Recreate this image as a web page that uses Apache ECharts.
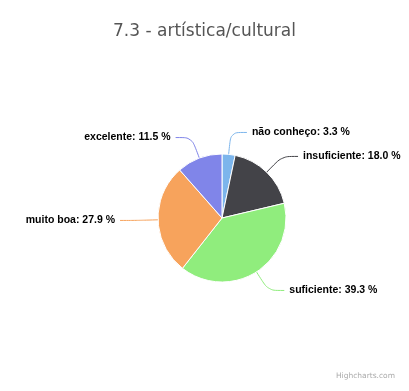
<!DOCTYPE html>
<html><head><meta charset="utf-8">
<script src="https://cdn.jsdelivr.net/npm/echarts@6/dist/echarts.min.js"></script>
<style>html,body{margin:0;padding:0;background:#fff}#c{width:409px;height:391px}</style>
</head><body><div id="c"></div>
<script>
const categories = ['não conheço', 'insuficiente', 'suficiente', 'muito boa', 'excelente'];
const values = [3.3, 18.0, 39.3, 27.9, 11.5];
const colors = ['#7cb5ec', '#434348', '#90ed7d', '#f7a35c', '#8085e9'];
const titleText = '7.3 - artística/cultural';

const chart = echarts.init(document.getElementById('c'), null, {renderer: 'canvas'});
chart.setOption({
  backgroundColor: '#ffffff',
  animation: false,
  title: {
    text: titleText, left: 'center', top: 18,
    textStyle: {fontFamily: 'DejaVu Sans', fontSize: 17, fontWeight: 'normal', color: '#555'}
  },
  graphic: [{
    type: 'text', right: 14, bottom: 11,
    style: {text: 'Highcharts.com', fontFamily: 'DejaVu Sans', fontSize: 7.5, fill: '#aaa'}
  }],
  series: [{
    type: 'pie',
    center: [222, 218],
    radius: 64,
    startAngle: 90,
    clockwise: true,
    data: categories.map((c, i) => ({name: c, value: values[i], itemStyle: {color: colors[i]}})),
    itemStyle: {borderColor: '#fff', borderWidth: 1},
    label: {
      show: true,
      overflow: 'none',
      edgeDistance: 2,
      formatter: p => p.name + ': ' + p.value.toFixed(1) + ' %',
      fontFamily: 'Liberation Sans', fontSize: 10.5, fontWeight: 'bold', color: '#000'
    },
    labelLine: {show: true, length: 22, length2: 16, smooth: 0.3, lineStyle: {width: 1}}
  }]
});
</script></body></html>
